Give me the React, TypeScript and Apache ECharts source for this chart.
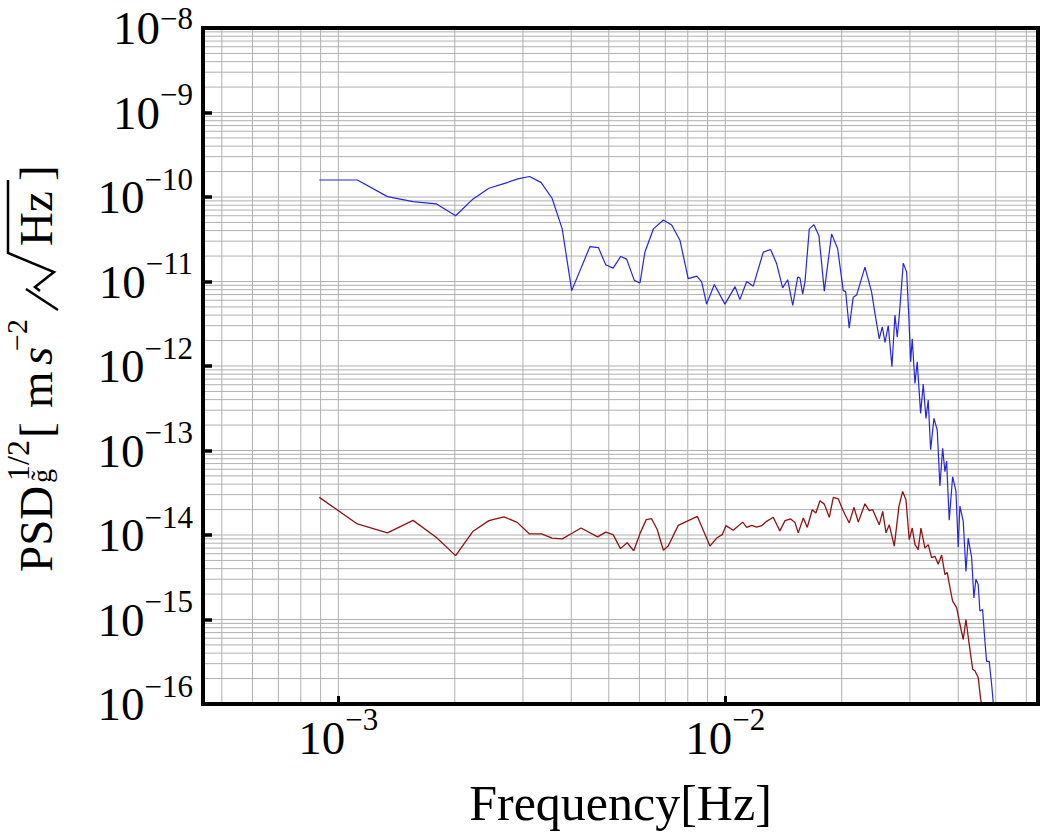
import React, { useEffect, useRef } from 'react';
import * as echarts from 'echarts';

// ---- data (frequency in Hz, amplitude spectral density) ----
const blueFreq = [
  8.93e-4, 1.12e-3, 1.34e-3, 1.56e-3, 1.79e-3, 2.01e-3, 2.23e-3, 2.45e-3, 2.69e-3, 2.91e-3,
  3.12e-3, 3.34e-3, 3.57e-3, 3.79e-3, 4.01e-3, 4.47e-3, 4.70e-3, 4.91e-3, 5.13e-3, 5.37e-3,
  5.56e-3, 5.82e-3, 6.02e-3, 6.20e-3, 6.52e-3, 6.92e-3, 7.27e-3, 7.64e-3, 8.02e-3, 8.44e-3,
  8.69e-3, 8.95e-3, 9.37e-3, 9.98e-3, 1.06e-2, 1.091e-2, 1.136e-2, 1.181e-2, 1.254e-2, 1.31e-2,
  1.358e-2, 1.407e-2, 1.45e-2, 1.494e-2, 1.539e-2, 1.56e-2, 1.585e-2, 1.607e-2, 1.649e-2, 1.695e-2,
  1.746e-2, 1.803e-2, 1.883e-2, 1.952e-2, 2.018e-2, 2.047e-2, 2.091e-2, 2.141e-2, 2.185e-2, 2.296e-2,
  2.389e-2, 2.437e-2, 2.50e-2, 2.546e-2, 2.587e-2, 2.638e-2, 2.696e-2, 2.745e-2, 2.783e-2, 2.816e-2,
  2.884e-2, 2.943e-2, 2.983e-2, 3.014e-2, 3.042e-2, 3.092e-2, 3.134e-2, 3.198e-2, 3.248e-2, 3.301e-2,
  3.346e-2, 3.394e-2, 3.462e-2, 3.53e-2, 3.587e-2, 3.646e-2, 3.696e-2, 3.733e-2, 3.791e-2, 3.869e-2,
  3.946e-2, 4.00e-2, 4.04e-2, 4.121e-2, 4.188e-2, 4.245e-2, 4.332e-2, 4.391e-2, 4.444e-2, 4.505e-2,
  4.55e-2, 4.624e-2, 4.688e-2, 4.736e-2, 4.81e-2, 4.88e-2, 4.926e-2, 5.0e-2,
];
const blueVal = [
  1.59e-10, 1.59e-10, 1.01e-10, 8.8e-11, 8.3e-11, 6.0e-11, 9.5e-11, 1.27e-10, 1.45e-10, 1.64e-10,
  1.75e-10, 1.49e-10, 9.6e-11, 4.2e-11, 7.8e-12, 2.59e-11, 2.52e-11, 1.58e-11, 1.44e-11, 1.98e-11,
  1.84e-11, 1.03e-11, 9.6e-12, 2.23e-11, 4.19e-11, 5.35e-11, 4.67e-11, 3.05e-11, 1.08e-11, 1.16e-11,
  9.9e-12, 5.4e-12, 9.2e-12, 5.4e-12, 8.7e-12, 6.1e-12, 1.0e-11, 8.8e-12, 2.23e-11, 2.39e-11,
  1.62e-11, 8.4e-12, 1.05e-11, 5.2e-12, 1.13e-11, 1.10e-11, 7.1e-12, 9.9e-12, 4.19e-11, 4.71e-11,
  3.49e-11, 7.7e-12, 3.66e-11, 2.44e-11, 7.8e-12, 7.6e-12, 2.8e-12, 6.5e-12, 6.9e-12, 1.48e-11,
  7.5e-12, 4.2e-12, 2.1e-12, 2.9e-12, 1.9e-12, 3.0e-12, 9.8e-13, 4.0e-12, 2.2e-12, 3.9e-12,
  1.65e-11, 1.29e-11, 3.6e-12, 1.12e-12, 2.1e-12, 6.2e-13, 1.12e-12, 2.75e-13, 6.1e-13, 2.4e-13,
  3.95e-13, 1.02e-13, 2.4e-13, 1.75e-13, 3.8e-14, 1.06e-13, 5.6e-14, 7.5e-14, 1.5e-14, 4.9e-14,
  3.3e-14, 7.2e-15, 2.2e-14, 1.45e-14, 3.7e-15, 9.2e-15, 5.4e-15, 1.8e-15, 3.0e-15, 2.6e-15,
  1.26e-15, 1.31e-15, 5.6e-16, 3.2e-16, 3.2e-16, 1.7e-16, 1.04e-16, 6e-17,
];
const redFreq = [
  8.93e-4, 1.12e-3, 1.34e-3, 1.56e-3, 1.79e-3, 2.01e-3, 2.23e-3, 2.45e-3, 2.68e-3, 2.90e-3,
  3.12e-3, 3.35e-3, 3.57e-3, 3.79e-3, 4.02e-3, 4.24e-3, 4.68e-3, 4.91e-3, 5.13e-3, 5.36e-3,
  5.58e-3, 5.80e-3, 6.03e-3, 6.25e-3, 6.45e-3, 6.67e-3, 6.92e-3, 7.12e-3, 7.56e-3, 7.95e-3,
  8.47e-3, 9.13e-3, 9.50e-3, 9.82e-3, 1.004e-2, 1.049e-2, 1.109e-2, 1.136e-2, 1.17e-2, 1.205e-2,
  1.242e-2, 1.279e-2, 1.33e-2, 1.384e-2, 1.427e-2, 1.476e-2, 1.514e-2, 1.544e-2, 1.591e-2, 1.629e-2,
  1.678e-2, 1.715e-2, 1.757e-2, 1.803e-2, 1.857e-2, 1.902e-2, 1.959e-2, 2.011e-2, 2.091e-2, 2.151e-2,
  2.207e-2, 2.296e-2, 2.356e-2, 2.404e-2, 2.50e-2, 2.552e-2, 2.603e-2, 2.654e-2, 2.734e-2, 2.811e-2,
  2.874e-2, 2.931e-2, 2.989e-2, 3.042e-2, 3.092e-2, 3.153e-2, 3.204e-2, 3.281e-2, 3.346e-2, 3.414e-2,
  3.482e-2, 3.551e-2, 3.624e-2, 3.696e-2, 3.746e-2, 3.823e-2, 3.869e-2, 3.962e-2, 4.024e-2, 4.121e-2,
  4.188e-2, 4.27e-2, 4.358e-2, 4.417e-2, 4.505e-2, 4.571e-2, 4.63e-2,
];
const redVal = [
  2.79e-14, 1.35e-14, 1.06e-14, 1.49e-14, 9.4e-15, 5.7e-15, 1.11e-14, 1.48e-14, 1.64e-14, 1.41e-14,
  1.03e-14, 1.03e-14, 9.2e-15, 9.0e-15, 1.05e-14, 1.21e-14, 9.5e-15, 1.08e-14, 1.01e-14, 6.9e-15,
  8.1e-15, 6.5e-15, 1.06e-14, 1.52e-14, 1.56e-14, 1.16e-14, 6.6e-15, 7.4e-15, 1.30e-14, 1.45e-14,
  1.66e-14, 7.4e-15, 9.2e-15, 1.01e-14, 1.29e-14, 1.14e-14, 1.42e-14, 1.23e-14, 1.30e-14, 1.24e-14,
  1.29e-14, 1.45e-14, 1.62e-14, 1.12e-14, 1.48e-14, 1.55e-14, 1.41e-14, 1.06e-14, 1.59e-14, 1.23e-14,
  1.99e-14, 1.82e-14, 2.54e-14, 2.32e-14, 1.62e-14, 2.79e-14, 2.68e-14, 1.99e-14, 1.39e-14, 2.12e-14,
  1.42e-14, 2.34e-14, 1.94e-14, 1.99e-14, 1.32e-14, 1.90e-14, 1.06e-14, 1.32e-14, 7.4e-15, 2.18e-14,
  3.28e-14, 2.61e-14, 8.8e-15, 1.21e-14, 7.7e-15, 6.7e-15, 1.21e-14, 7.0e-15, 7.7e-15, 5.4e-15,
  5.6e-15, 4.5e-15, 5.8e-15, 3.4e-15, 3.6e-15, 2.17e-15, 1.65e-15, 1.38e-15, 9.6e-16, 5.8e-16,
  1.0e-15, 5.1e-16, 2.58e-16, 2.47e-16, 2.06e-16, 1.14e-16, 8.6e-17,
];

// axis ticks / grid positions
const gridMantissas = [1, 2, 3, 4, 5, 6, 7, 8, 9];
const xGridDecades = [1e-4, 1e-3, 1e-2];
const yGridDecades = [1e-16, 1e-15, 1e-14, 1e-13, 1e-12, 1e-11, 1e-10, 1e-9];

const X_MIN = 4.47e-4;
const X_MAX = 0.0643;
const Y_MIN = 1e-16;
const Y_MAX = 1e-8;

const FONT = '"Liberation Serif", "Times New Roman", serif';

function decadeExp(v: number): number | null {
  const l = Math.log10(v);
  const e = Math.round(l);
  return Math.abs(l - e) > 1e-6 ? null : e;
}
function xLabel(v: number): string {
  const e = decadeExp(v);
  return e === null ? '' : `{b|10}{s|\u2212${Math.abs(e)}}`;
}
function yLabel(v: number): string {
  const e = decadeExp(v);
  if (e === null) return '';
  // the topmost label sits at the page edge: keep its exponent a little lower
  return e === -8 ? `{b|10}{t|\u2212${Math.abs(e)}}` : `{b|10}{s|\u2212${Math.abs(e)}}`;
}

const labelRich = {
  b: { fontSize: 47, fontFamily: FONT, color: '#000', lineHeight: 47, verticalAlign: 'bottom' },
  s: { fontSize: 31, fontFamily: FONT, color: '#000', lineHeight: 22, padding: [0, 0, 26, 0], verticalAlign: 'bottom' },
  t: { fontSize: 31, fontFamily: FONT, color: '#000', lineHeight: 22, padding: [0, 0, 18, 0], verticalAlign: 'bottom' },
};

export default function App() {
  const ref = useRef<HTMLDivElement>(null);

  useEffect(() => {
    document.body.style.margin = '0';
    if (!ref.current) return;
    const chart = echarts.init(ref.current, undefined, { renderer: 'svg' });

    const xGrid: number[] = [];
    xGridDecades.forEach((d) => gridMantissas.forEach((m) => {
      const v = parseFloat((m * d).toPrecision(6));
      if (v > X_MIN && v < X_MAX) xGrid.push(v);
    }));
    const yGrid: number[] = [];
    yGridDecades.forEach((d) => gridMantissas.forEach((m) => {
      const v = parseFloat((m * d).toPrecision(6));
      if (v > Y_MIN && v < Y_MAX) yGrid.push(v);
    }));
    const vLines: any[] = [];
    xGrid.forEach((v) => { vLines.push([v, Y_MIN], [v, Y_MAX], ['-', '-']); });
    const hLines: any[] = [];
    yGrid.forEach((v) => { hLines.push([X_MIN, v], [X_MAX, v], ['-', '-']); });

    const frameLine = { show: true, lineStyle: { color: '#000', width: 4, cap: 'square' } };
    const T = 47;
    const txt = (text: string, x: number, y: number, size: number, extra: any = {}) => ({
      type: 'text', x, y,
      style: { text, fontSize: size, fontFamily: FONT, fill: '#000', verticalAlign: 'middle', align: 'left', ...extra },
    });
    const gridStyle = { color: '#b0b0b0', width: 1, type: 'solid' };

    chart.setOption({
      animation: false,
      backgroundColor: '#fff',
      grid: { left: 203, right: 3, top: 28, bottom: 127, show: false },
      xAxis: [
        {
          type: 'log', logBase: 10, min: X_MIN, max: X_MAX, position: 'bottom', z: 10,
          name: 'Frequency[Hz]', nameLocation: 'middle', nameGap: 74,
          nameTextStyle: { fontSize: 50, fontFamily: FONT, color: '#000' },
          axisLine: frameLine,
          axisTick: { show: true, inside: true, length: 8, lineStyle: { color: '#000', width: 3 } },
          axisLabel: { show: true, margin: 10, formatter: xLabel, rich: labelRich },
          splitLine: { show: false },
        },
        {
          type: 'log', logBase: 10, min: X_MIN, max: X_MAX, position: 'top', z: 10,
          axisLine: frameLine, axisTick: { show: false }, axisLabel: { show: false }, splitLine: { show: false },
        },
      ],
      yAxis: [
        {
          type: 'log', logBase: 10, min: Y_MIN, max: Y_MAX, position: 'left', z: 10,
          axisLine: frameLine,
          axisTick: { show: true, inside: true, length: 9, lineStyle: { color: '#000', width: 3.5 } },
          axisLabel: { show: true, margin: 10, formatter: yLabel, rich: labelRich },
          splitLine: { show: false },
        },
        {
          type: 'log', logBase: 10, min: Y_MIN, max: Y_MAX, position: 'right', z: 10,
          axisLine: frameLine, axisTick: { show: false }, axisLabel: { show: false }, splitLine: { show: false },
        },
      ],
      series: [
        {
          type: 'line', name: 'gridV', z: 1, data: vLines, showSymbol: false, symbol: 'none',
          silent: true, connectNulls: false, lineStyle: gridStyle, emphasis: { disabled: true },
        },
        {
          type: 'line', name: 'gridH', z: 1, data: hLines, showSymbol: false, symbol: 'none',
          silent: true, connectNulls: false, lineStyle: gridStyle, emphasis: { disabled: true },
        },
        {
          type: 'line', name: 'upper', z: 3,
          data: blueFreq.map((f, i) => [f, blueVal[i]]),
          showSymbol: false, symbol: 'none', clip: true, silent: true,
          lineStyle: { color: '#2626d9', width: 1.2 },
        },
        {
          type: 'line', name: 'lower', z: 4,
          data: redFreq.map((f, i) => [f, redVal[i]]),
          showSymbol: false, symbol: 'none', clip: true, silent: true,
          lineStyle: { color: '#8e1313', width: 1.3 },
        },
      ],
      graphic: [
        {
          type: 'group', x: 0, y: 572, rotation: Math.PI / 2, z: 100,
          children: [
            txt('PSD', 0, 36, T),
            txt('1/2', 91, 18, 32),
            txt('g\u0303', 89, 41, 28),
            txt('[', 134, 36, T),
            txt('m', 164, 36, T),
            txt('s', 207, 36, T, { fontStyle: 'italic' }),
            txt('\u22122', 221, 16, 30),
            { type: 'line', shape: { x1: 262, y1: 58, x2: 283, y2: 26 }, style: { stroke: '#000', lineWidth: 2.5 } },
            {
              type: 'polyline',
              shape: { points: [[281, 40], [285, 35], [300, 54], [319, 8], [392, 8]] },
              style: { stroke: '#000', lineWidth: 2.5, fill: 'none' },
            },
            txt('Hz', 326, 36, T),
            txt(']', 391, 36, T),
          ],
        },
      ],
    });

    return () => chart.dispose();
  }, []);

  return (
    <div
      ref={ref}
      style={{ position: 'absolute', left: 0, top: 0, width: 1041, height: 833 }}
    />
  );
}
